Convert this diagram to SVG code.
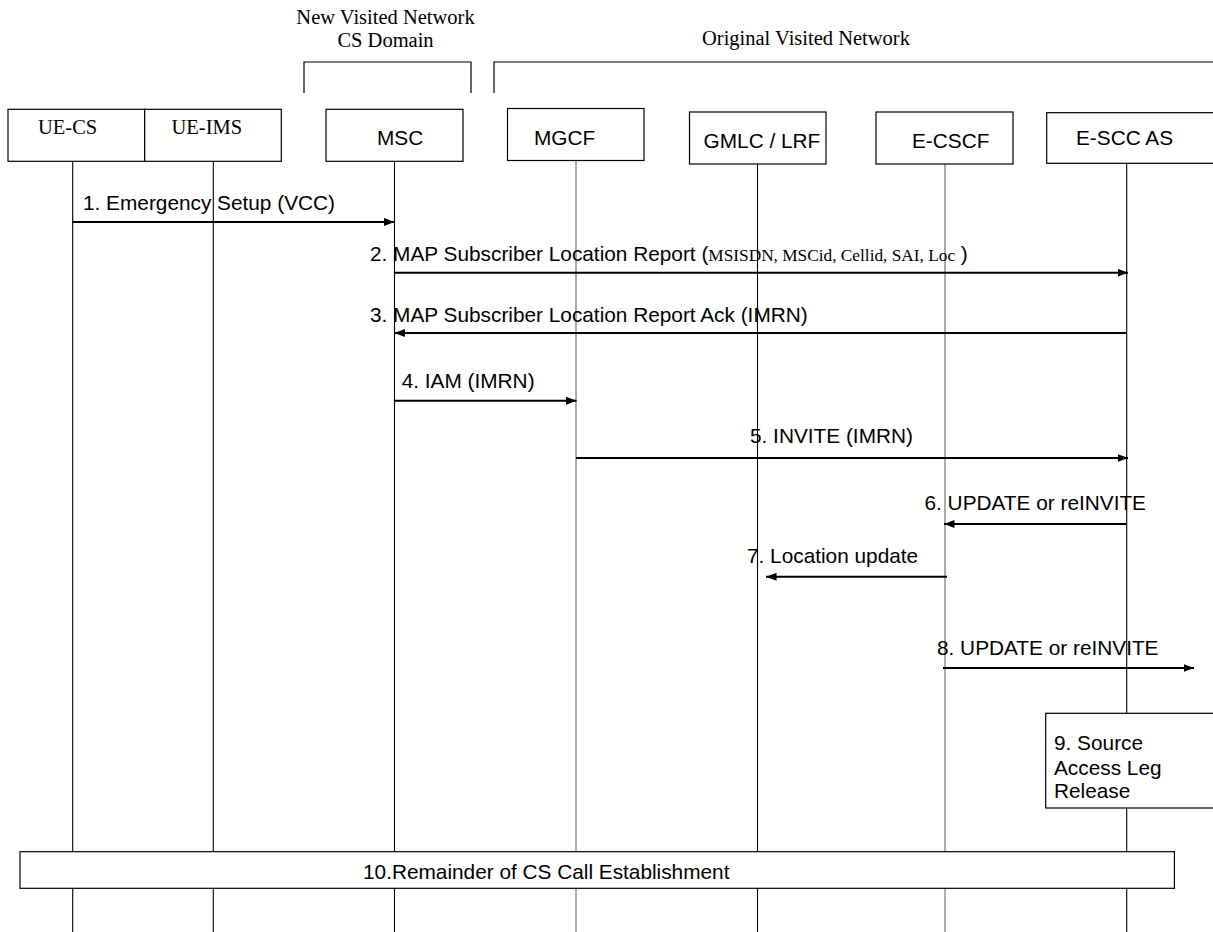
<svg xmlns="http://www.w3.org/2000/svg" width="1213" height="932" viewBox="0 0 1213 932">
  <style>
    .box { fill: #fff; stroke: #000; stroke-width: 1.2; }
    .life { stroke: #000; stroke-width: 1.1; fill: none; }
    .life.grey { stroke: #666; }
    .bracket { fill: none; stroke: #000; stroke-width: 1.2; }
    .msg { stroke: #000; stroke-width: 2; fill: none; marker-end: url(#head); }
    .sans { font-family: "Liberation Sans", Arial, sans-serif; font-size: 20.8px; fill: #000; }
    .serif { font-family: "Liberation Serif", "Times New Roman", serif; font-size: 20.5px; fill: #000; }
    .small { font-family: "Liberation Serif", "Times New Roman", serif; font-size: 17.3px; }
  </style>
  <defs>
    <marker id="head" markerUnits="userSpaceOnUse" markerWidth="11" markerHeight="9" refX="10.5" refY="4" orient="auto">
      <path d="M0,0 L10.5,4 L0,8 z" fill="#000"/>
    </marker>
  </defs>
  <rect width="1213" height="932" fill="#fff"/>

  <!-- network domain headers -->
  <g id="domains">
    <text class="serif" x="385.5" y="24" text-anchor="middle">New Visited Network</text>
    <text class="serif" x="385.5" y="47" text-anchor="middle">CS Domain</text>
    <path class="bracket" d="M304,93 V62 H471 V93"/>
    <text class="serif" x="702" y="45">Original Visited Network</text>
    <path class="bracket" d="M494,93 V62 H1214"/>
  </g>

  <!-- lifelines -->
  <g id="lifelines">
    <line class="life" x1="72.7" y1="161" x2="72.7" y2="932"/>
    <line class="life" x1="213.3" y1="161" x2="213.3" y2="932"/>
    <line class="life" x1="394.5" y1="161" x2="394.5" y2="932"/>
    <line class="life grey" x1="576" y1="160" x2="576" y2="932"/>
    <line class="life" x1="757.5" y1="164" x2="757.5" y2="932"/>
    <line class="life grey" x1="945" y1="164" x2="945" y2="932"/>
    <line class="life" x1="1126.7" y1="163" x2="1126.7" y2="932"/>
  </g>

  <!-- entities -->
  <g id="ue-cs">
    <rect class="box" x="8" y="109.3" width="136.7" height="52"/>
    <text class="serif" x="38" y="134">UE-CS</text>
  </g>
  <g id="ue-ims">
    <rect class="box" x="144.7" y="109.3" width="136.6" height="52"/>
    <text class="serif" x="171.5" y="134">UE-IMS</text>
  </g>
  <g id="msc">
    <rect class="box" x="326" y="109.3" width="137" height="52"/>
    <text class="sans" x="377" y="145">MSC</text>
  </g>
  <g id="mgcf">
    <rect class="box" x="507.5" y="108.5" width="136.5" height="52"/>
    <text class="sans" x="534" y="144.5">MGCF</text>
  </g>
  <g id="gmlc-lrf">
    <rect class="box" x="689.5" y="112" width="136.5" height="52"/>
    <text class="sans" x="703.6" y="148">GMLC / LRF</text>
  </g>
  <g id="e-cscf">
    <rect class="box" x="876" y="112" width="137" height="52"/>
    <text class="sans" x="912" y="148">E-CSCF</text>
  </g>
  <g id="e-scc-as">
    <rect class="box" x="1046.7" y="112.7" width="170" height="50.6"/>
    <text class="sans" x="1076" y="145">E-SCC AS</text>
  </g>

  <!-- messages -->
  <g id="messages">
    <line class="msg" x1="72.7" y1="222" x2="394.5" y2="222"/>
    <text class="sans" x="83" y="210">1. Emergency Setup (VCC)</text>

    <line class="msg" x1="394.5" y1="272.7" x2="1128" y2="272.7"/>
    <text class="sans" x="370" y="261">2. MAP Subscriber Location Report (<tspan class="small">MSISDN, MSCid, Cellid, SAI, Loc</tspan> )</text>

    <line class="msg" x1="1126.7" y1="333" x2="394.5" y2="333"/>
    <text class="sans" x="370" y="322">3. MAP Subscriber Location Report Ack (IMRN)</text>

    <line class="msg" x1="394.5" y1="400.7" x2="576.5" y2="400.7"/>
    <text class="sans" x="401.7" y="388">4. IAM (IMRN)</text>

    <line class="msg" x1="576" y1="458" x2="1128" y2="458"/>
    <text class="sans" x="750" y="443">5. INVITE (IMRN)</text>

    <line class="msg" x1="1126.7" y1="524" x2="944" y2="524"/>
    <text class="sans" x="924.5" y="510">6. UPDATE or reINVITE</text>

    <line class="msg" x1="947" y1="576.7" x2="766" y2="576.7"/>
    <text class="sans" x="747" y="563">7. Location update</text>

    <line class="msg" x1="943" y1="668" x2="1194" y2="668"/>
    <text class="sans" x="937" y="655">8. UPDATE or reINVITE</text>
  </g>

  <!-- procedures -->
  <g id="source-release">
    <rect class="box" x="1045.7" y="713.3" width="172" height="94.7"/>
    <text class="sans" x="1054" y="750">9. Source</text>
    <text class="sans" x="1054" y="774.5">Access Leg</text>
    <text class="sans" x="1054" y="798.3">Release</text>
  </g>
  <g id="cs-call-establishment">
    <rect class="box" x="20" y="851.7" width="1154.4" height="36.6"/>
    <text class="sans" x="363" y="879">10.Remainder of CS Call Establishment</text>
  </g>
</svg>
